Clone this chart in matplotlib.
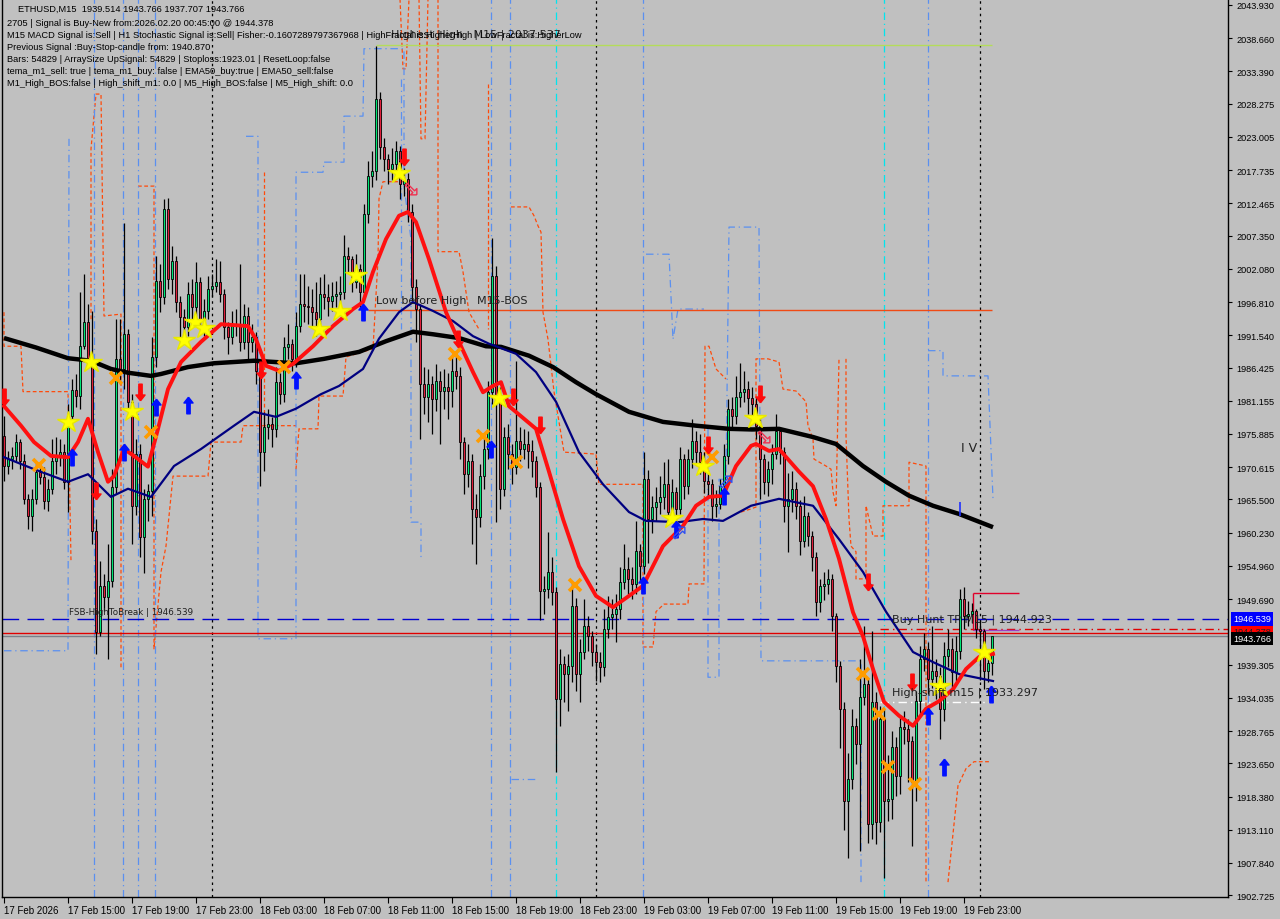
import numpy as np
import matplotlib.pyplot as plt
from matplotlib.transforms import blended_transform_factory

# ETHUSD M15 bars, 17 Feb 11:00 -> 20 Feb 00:45
closes = [1970.8, 1971.9, 1972.4, 1974.6, 1971.6, 1965.6, 1962.9, 1965.6, 1969.9, 1969.1,
          1965.3, 1967.2, 1971.6, 1972.2, 1973.0, 1968.3, 1978.7, 1982.9, 1981.9, 1989.8,
          1993.7, 1987.8, 1960.5, 1944.5, 1951.8, 1950.0, 1952.6, 1967.5, 1987.8, 1986.2,
          1991.7, 1981.0, 1964.5, 1972.7, 1959.6, 1965.6, 1966.9, 1988.1, 2000.2, 1997.6,
          2011.6, 2000.5, 2003.3, 1996.8, 1994.4, 1992.9, 1998.1, 1996.0, 2000.0, 1994.1,
          1995.4, 1998.9, 1999.4, 2000.0, 1998.1, 1992.9, 1991.3, 1993.0, 1993.3, 1990.5,
          1994.6, 1990.5, 1991.3, 1985.9, 1973.0, 1977.0, 1977.5, 1976.7, 1984.1, 1982.2,
          1989.7, 1990.2, 1987.8, 1993.0, 1996.5, 1996.2, 1996.0, 1995.2, 1994.1, 1998.1,
          1997.6, 1997.0, 1997.8, 1998.1, 1998.4, 2004.1, 2003.6, 2000.0, 2002.1, 1998.4,
          2010.8, 2016.8, 2017.6, 2029.0, 2021.4, 2019.5, 2017.9, 2018.7, 2020.8, 2015.5,
          2016.3, 2011.1, 1999.2, 1995.7, 1983.8, 1981.8, 1983.8, 1981.4, 1984.3, 1982.7,
          1983.3, 1982.7, 1985.9, 1985.1, 1974.6, 1969.5, 1971.6, 1964.0, 1962.7, 1969.2,
          1973.5, 1982.6, 2001.0, 1981.8, 1967.2, 1975.4, 1972.7, 1970.7, 1974.8, 1973.5,
          1974.3, 1973.2, 1971.6, 1967.5, 1951.0, 1951.3, 1954.0, 1950.8, 1933.9, 1939.4,
          1937.8, 1939.1, 1948.6, 1937.8, 1941.3, 1945.4, 1943.9, 1941.3, 1939.7, 1938.9,
          1945.0, 1946.9, 1947.3, 1948.1, 1952.4, 1954.5, 1952.9, 1952.1, 1957.3, 1955.0,
          1968.8, 1962.4, 1964.3, 1965.1, 1965.9, 1968.0, 1963.5, 1966.7, 1964.0, 1971.9,
          1967.6, 1971.9, 1974.8, 1973.0, 1971.5, 1968.4, 1968.0, 1964.5, 1964.8, 1967.6,
          1972.4, 1979.9, 1978.7, 1981.8, 1982.6, 1983.0, 1981.6, 1980.6, 1977.2, 1971.9,
          1968.3, 1970.3, 1972.7, 1976.4, 1973.0, 1964.5, 1965.6, 1967.2, 1964.5, 1958.9,
          1962.9, 1959.7, 1956.4, 1949.2, 1951.8, 1952.1, 1952.9, 1947.0, 1939.1, 1932.3,
          1917.7, 1921.2, 1929.6, 1926.7, 1934.2, 1936.2, 1914.0, 1933.4, 1914.4, 1930.7,
          1917.7, 1918.0, 1926.3, 1921.7, 1929.4, 1929.1, 1927.2, 1920.7, 1933.5, 1940.2,
          1941.8, 1937.0, 1938.3, 1937.5, 1932.3, 1940.7, 1941.8, 1938.1, 1941.5, 1949.7,
          1947.0, 1947.3, 1947.8, 1945.0, 1944.6, 1938.3, 1939.514, 1943.766]
highs = [1978.7, 1973.2, 1973.8, 1975.9, 1975.1, 1972.7, 1966.4, 1967.2, 1971.6, 1971.1,
         1970.6, 1968.8, 1975.1, 1975.4, 1975.1, 1974.3, 1980.6, 1984.6, 1985.4, 1998.4,
         2001.3, 1996.5, 1995.4, 1962.4, 1955.8, 1953.7, 1958.4, 1970.3, 1994.1, 1994.1,
         2009.3, 1992.5, 1982.2, 1975.1, 1974.3, 1967.2, 1968.0, 1991.3, 2004.1, 2002.8,
         2013.2, 2013.3, 2005.7, 2004.1, 1997.8, 1995.7, 2000.0, 2000.5, 2003.1, 2000.8,
         1997.3, 2001.0, 2001.3, 2003.6, 2003.3, 1998.9, 1993.7, 1995.4, 1995.7, 2002.8,
         1996.5, 1996.0, 1993.3, 1992.0, 1986.5, 1979.4, 1979.9, 1978.6, 1986.5, 1985.6,
         1991.3, 1993.3, 1991.0, 1995.2, 2001.3, 2001.3, 1999.4, 1998.9, 2000.0, 2000.8,
         2001.3, 1999.7, 2000.0, 2000.2, 2001.0, 2007.5, 2005.6, 2004.1, 2004.4, 2002.8,
         2012.4, 2019.2, 2020.8, 2037.5, 2030.2, 2022.9, 2020.3, 2021.3, 2022.4, 2021.6,
         2018.1, 2017.3, 2012.4, 2000.5, 1996.5, 1986.5, 1986.2, 1985.1, 1987.0, 1985.9,
         1986.2, 1985.6, 1988.1, 1989.0, 1986.5, 1975.4, 1974.3, 1972.7, 1966.4, 1971.1,
         1975.9, 1984.3, 2007.0, 2002.5, 1983.3, 1977.0, 1977.5, 1974.3, 1987.5, 1977.0,
         1976.7, 1976.4, 1974.9, 1972.4, 1968.3, 1953.4, 1960.3, 1956.4, 1951.6, 1941.8,
         1940.7, 1941.0, 1952.6, 1949.8, 1943.4, 1949.7, 1947.0, 1944.6, 1942.6, 1941.3,
         1948.1, 1950.2, 1949.7, 1950.5, 1954.8, 1958.4, 1956.4, 1954.8, 1962.1, 1958.4,
         1973.0, 1970.1, 1966.0, 1967.5, 1969.2, 1971.4, 1971.9, 1968.8, 1967.5, 1973.8,
         1972.7, 1973.5, 1978.2, 1976.4, 1975.9, 1973.0, 1970.2, 1968.8, 1967.0, 1968.8,
         1974.3, 1981.4, 1981.7, 1985.1, 1987.2, 1985.9, 1984.3, 1983.3, 1981.8, 1978.2,
         1972.7, 1971.6, 1974.3, 1979.1, 1977.0, 1973.8, 1969.7, 1970.0, 1968.3, 1965.4,
         1966.0, 1963.5, 1960.5, 1957.2, 1952.9, 1954.0, 1954.5, 1953.7, 1947.5, 1939.9,
         1933.4, 1925.3, 1932.3, 1930.9, 1940.2, 1945.4, 1937.2, 1944.6, 1934.9, 1932.7,
         1932.3, 1925.0, 1928.8, 1927.8, 1931.2, 1932.0, 1930.7, 1928.0, 1935.1, 1942.3,
         1944.3, 1942.9, 1945.4, 1940.2, 1938.9, 1942.9, 1944.9, 1943.6, 1943.8, 1951.3,
         1951.6, 1949.4, 1949.0, 1948.1, 1946.4, 1945.0, 1940.5, 1943.766]
lows = [1968.4, 1969.5, 1970.3, 1971.6, 1970.3, 1964.8, 1960.8, 1960.5, 1964.8, 1967.9,
        1964.0, 1963.7, 1966.4, 1969.5, 1970.8, 1967.2, 1963.5, 1978.2, 1980.2, 1979.9,
        1989.4, 1986.5, 1958.4, 1941.0, 1943.9, 1947.8, 1940.2, 1951.6, 1966.4, 1983.8,
        1983.0, 1979.9, 1958.4, 1963.0, 1956.4, 1953.9, 1962.1, 1962.9, 1986.5, 1995.2,
        1996.5, 1998.9, 1998.1, 1995.2, 1990.7, 1990.2, 1991.5, 1993.3, 1994.6, 1992.5,
        1991.4, 1994.1, 1997.6, 1998.4, 1996.8, 1991.0, 1988.6, 1990.2, 1991.4, 1989.1,
        1989.4, 1987.5, 1988.9, 1983.8, 1967.6, 1970.0, 1975.1, 1973.8, 1975.4, 1980.6,
        1981.0, 1987.8, 1985.9, 1986.5, 1992.0, 1993.7, 1993.3, 1992.8, 1991.5, 1993.0,
        1995.7, 1994.6, 1995.4, 1996.0, 1996.5, 1997.3, 2001.6, 1998.4, 1999.1, 1995.7,
        1997.6, 2009.4, 2015.1, 2016.2, 2019.5, 2017.6, 2015.5, 2016.2, 2017.6, 2013.2,
        2013.6, 2009.5, 1997.0, 1990.5, 1975.1, 1979.1, 1977.8, 1975.9, 1979.6, 1974.3,
        1979.9, 1978.2, 1980.2, 1983.0, 1971.9, 1966.4, 1967.5, 1958.4, 1955.3, 1961.1,
        1967.2, 1971.9, 1980.6, 1962.0, 1964.0, 1966.0, 1970.3, 1968.0, 1969.5, 1971.6,
        1971.9, 1970.5, 1969.0, 1965.9, 1946.3, 1947.3, 1949.9, 1948.8, 1922.3, 1929.6,
        1933.4, 1931.9, 1936.5, 1935.1, 1933.4, 1940.2, 1941.5, 1939.1, 1936.7, 1936.5,
        1937.5, 1943.6, 1944.9, 1942.9, 1946.5, 1951.3, 1950.5, 1949.7, 1950.5, 1952.6,
        1953.7, 1955.4, 1960.1, 1962.1, 1963.2, 1964.0, 1961.7, 1962.1, 1961.9, 1963.2,
        1965.6, 1966.4, 1970.5, 1971.1, 1969.5, 1966.6, 1966.0, 1962.1, 1962.7, 1964.0,
        1966.4, 1971.1, 1976.7, 1977.5, 1980.2, 1981.0, 1979.1, 1977.8, 1975.1, 1965.6,
        1966.4, 1966.0, 1968.0, 1971.9, 1971.1, 1962.0, 1957.2, 1963.5, 1962.4, 1956.7,
        1957.9, 1958.1, 1954.2, 1947.0, 1947.7, 1949.5, 1950.5, 1944.6, 1936.5, 1926.1,
        1913.1, 1908.6, 1919.6, 1923.6, 1909.7, 1932.9, 1911.0, 1911.6, 1910.9, 1912.8,
        1905.5, 1914.5, 1914.8, 1918.5, 1918.8, 1926.7, 1920.7, 1910.6, 1917.7, 1931.5,
        1938.3, 1934.6, 1935.6, 1933.9, 1927.5, 1930.4, 1938.9, 1935.6, 1936.7, 1940.2,
        1944.9, 1945.4, 1945.9, 1943.6, 1936.9, 1935.5, 1936.5, 1937.707]
first_open = 1975.6

# moving averages (bar index, price)
ma_slow_x = [0, 8, 16, 21.75, 26.75, 31, 36.75, 39.25, 46, 52.5, 62.5, 73, 80, 88.75, 95.5,
             102.25, 107.25, 113.75, 120.5, 124.25, 131.25, 137.25, 143, 148, 156.25, 164.75,
             173, 181.25, 187, 193.75, 202.25, 208, 214.75, 220.5, 226.25, 232.25, 238.75, 247.25]
ma_slow_y = [1991.1, 1989.6, 1987.9, 1987.5, 1986.2, 1985.6, 1985.1, 1985.4, 1986.5, 1987.1,
             1987.5, 1987.1, 1987.8, 1988.9, 1990.6, 1992.1, 1991.7, 1991.1, 1989.8, 1989.7,
             1988.3, 1986.5, 1984.1, 1982.2, 1979.4, 1977.8, 1977.2, 1976.7, 1976.6, 1976.7,
             1975.4, 1974.3, 1970.8, 1968.3, 1966.1, 1964.5, 1963.2, 1961.1]
ma_mid_x = [0, 7.5, 16, 21, 26.75, 31, 36.75, 42.5, 49.25, 57.5, 62.5, 68, 73, 79.25, 83.75,
            89.75, 93.75, 98.75, 102.25, 107.25, 112.25, 117.25, 121.25, 123, 128, 133, 138,
            143.75, 149.75, 156.25, 160.5, 168.75, 174.75, 179.75, 186.75, 193.75, 202.25,
            208.75, 214.75, 220.5, 227.25, 232.25, 238.75, 247.25]
ma_mid_y = [1972.2, 1970.3, 1968.3, 1969.5, 1965.9, 1967.2, 1965.9, 1970.8, 1973.5, 1977.2,
            1979.4, 1978.6, 1979.9, 1982.2, 1983.5, 1986.2, 1991.0, 1995.2, 1996.8, 1995.4,
            1993.8, 1991.4, 1990.2, 1989.8, 1988.6, 1985.7, 1981.0, 1973.0, 1967.9, 1963.5,
            1962.1, 1961.9, 1962.4, 1962.1, 1964.5, 1965.6, 1964.5, 1959.2, 1954.0, 1947.7,
            1941.3, 1939.7, 1937.8, 1936.7]
ma_fast_x = [0, 4.25, 7.5, 11.75, 16, 18.5, 21, 23.5, 26, 27.5, 30, 32.5, 36, 38.5, 41, 44.25,
             49.25, 54.25, 61, 63, 65.5, 68.75, 72.25, 77.25, 82.25, 87.25, 89.75, 92.25, 95.5,
             98.75, 101, 103, 106.25, 110.5, 113.75, 117.25, 119.75, 122.25, 124.25, 126.25,
             133, 136.25, 139.75, 143.75, 148, 152.25, 156.25, 159.75, 164.75, 169.75, 173,
             176.25, 179.75, 183, 186.75, 188, 191.25, 193.75, 198.75, 202.25, 205.5, 208.75,
             212.25, 214.75, 217.25, 220, 223.75, 227.25, 230.5, 233.75, 237.25, 240.5,
             243.75, 247.25]
ma_fast_y = [1980.3, 1977.2, 1974.6, 1972.4, 1972.2, 1974.6, 1978.3, 1973.0, 1968.3, 1969.2,
             1973.5, 1972.4, 1970.7, 1976.7, 1983.0, 1987.3, 1990.5, 1993.3, 1993.0, 1990.9,
             1986.7, 1985.9, 1987.0, 1989.8, 1993.0, 1995.7, 1996.8, 2001.6, 2006.8, 2010.5,
             2011.1, 2009.5, 2003.6, 1995.2, 1990.5, 1985.7, 1982.5, 1983.5, 1984.1, 1980.3,
             1976.7, 1969.9, 1962.4, 1954.9, 1950.2, 1948.4, 1950.2, 1951.8, 1958.1, 1961.3,
             1964.5, 1965.9, 1966.1, 1970.8, 1974.0, 1974.3, 1973.2, 1973.5, 1969.9, 1967.6,
             1962.4, 1956.1, 1947.6, 1943.8, 1938.6, 1933.4, 1931.2, 1929.6, 1932.3, 1933.5,
             1935.4, 1938.6, 1940.5, 1941.0]

# channel step lines (orange dashed, blue dash-dot) as (bars, prices)
orange_paths = [
    ([0, 0, 4.25, 4.75, 16, 16.75], [1995.2, 1989.8, 1989.8, 1982.6, 1982.6, 1955.6]),
    ([21.75, 21.75, 23, 24.25, 25, 29.25, 29.25], [1994.1, 2021.1, 2029.8, 2029.8, 1994.6, 1994.9, 1938.6]),
    ([33.5, 37.5, 37.5, 39.25, 40.5, 42.25, 51, 51.75, 59.25, 59.75, 62.5, 73],
     [2015.2, 2015.2, 1941.8, 1954.0, 1958.1, 1969.2, 1969.2, 1974.6, 1974.6, 1977.2, 1977.2, 1977.2]),
    ([65, 65], [2017.4, 1977.2]),
    ([73, 73.75, 78.5, 78.75, 84.75, 85.5, 92.25, 93.5, 93.75, 94.75, 99.75],
     [1970.3, 1976.7, 1976.7, 1981.9, 1981.9, 1988.1, 1989.4, 2003.6, 2013.2, 2015.9, 2015.9]),
    ([99, 99.75, 100.5, 101.25], [2044.9, 2033.8, 2033.8, 2044.9]),
    ([103.75, 104.25, 105.25, 106], [2044.9, 2022.7, 2022.7, 2044.9]),
    ([108.5, 108.5, 113.75, 114.75, 116.25, 118.75], [2044.9, 2004.8, 2004.8, 2001.6, 1995.2, 1992.5]),
    ([121, 121], [2031.4, 1992.5]),
    ([126.75, 131.25, 132.5, 133.5, 134.25, 134.75, 136, 137.5, 140, 148, 148.75, 159.75],
     [2011.9, 2011.9, 2010.5, 2008.9, 2007.9, 1995.2, 1990.9, 1982.6, 1973.0, 1972.7, 1967.9, 1967.9]),
    ([159.75, 159.75, 162.25, 163, 165, 171, 171.25, 175, 175.25, 176.25, 178, 180.5],
     [1967.9, 1942.1, 1942.1, 1947.7, 1948.9, 1948.9, 1952.1, 1952.1, 1989.8, 1989.8, 1986.2, 1984.6]),
    ([184.25, 186.75, 188, 188, 191, 193.75, 194.75, 198, 200.5, 201, 202.25, 202.5, 205.5,
      206.75, 207.25, 208, 208.75],
     [1963.5, 1964.0, 1964.3, 1987.8, 1987.8, 1987.3, 1983.0, 1982.7, 1981.0, 1977.2, 1975.1,
      1971.9, 1970.8, 1970.3, 1966.7, 1964.5, 1987.8]),
    ([210.5, 210.5, 211.25, 211.75, 213, 213, 215.5, 215.5, 217.25, 219.75, 219.75, 226.25,
      226.25, 230.5, 230.5],
     [1987.8, 1975.6, 1962.4, 1958.1, 1957.2, 1952.9, 1952.9, 1964.5, 1959.7, 1959.7, 1964.5,
      1964.5, 1971.4, 1970.8, 1904.8]),
    ([236, 238.5, 240.5, 242.5, 246.75], [1904.8, 1920.1, 1922.8, 1923.9, 1923.9]),
]
blue_paths = [
    ([0, 16, 16.25], [1941.5, 1941.5, 2022.7]),
    ([60.5, 63.5, 63.5, 73, 73, 79.75, 80, 85, 85, 89.75, 90, 100, 100, 101.75, 101.75, 104.25, 104.25],
     [2023.1, 2023.1, 1943.4, 1943.4, 2017.4, 2017.4, 2019.0, 2019.0, 2026.3, 2026.3, 2037.0,
      2037.0, 2015.2, 2006.8, 1961.9, 1961.9, 1956.1]),
    ([99.25, 99.25], [2032.2, 1992.5]),
    ([126.75, 133], [1921.2, 1921.2]),
    ([160.5, 166.25, 167.25, 168.5, 175], [2004.4, 2004.4, 1990.9, 1995.7, 1995.7]),
    ([176, 176, 178.75, 178.75, 180.5, 181.25, 188, 188.75, 189.25, 214.25, 214.25],
     [1976.7, 1937.3, 1937.3, 1968.7, 1968.7, 2008.7, 2008.7, 2008.7, 1939.9, 1939.9, 1904.8]),
    ([231, 234.75, 234.75, 246, 247.25], [1989.1, 1989.1, 1985.1, 1985.1, 1965.6]),
]
blue_full = [22.5, 29.75, 33.5, 37.75, 121.75, 126.5, 159.75, 231]

# signal markers (bar index, price)
star_x = [16, 21.75, 32, 45, 47.75, 50, 78.75, 84, 88, 98.75, 123.75, 167, 174.75, 187.75, 234, 245]
star_y = [1977.8, 1987.3, 1979.5, 1990.8, 1993.6, 1992.7, 1992.5, 1995.4, 2001.1, 2017.3,
          1981.6, 1962.6, 1970.8, 1978.4, 1935.9, 1941.3]
cross_x = [8.75, 28, 36.75, 70, 112.75, 119.75, 128, 142.75, 177, 214.75, 218.75, 221, 227.75]
cross_y = [1971.0, 1984.8, 1976.2, 1986.5, 1988.6, 1975.6, 1971.4, 1951.9, 1972.2, 1937.8,
           1931.5, 1923.1, 1920.4]
buy_x = [17, 30, 38, 46, 73, 89.75, 121.75, 159.75, 168, 180, 231, 235, 246.75]
buy_y = [1972.2, 1973.0, 1980.2, 1980.5, 1984.4, 1995.2, 1973.5, 1951.9, 1960.8, 1966.1,
         1931.2, 1923.1, 1934.6]
sell_x = [0, 23, 34, 64.25, 100, 113.5, 127.25, 134, 176, 189, 216, 227]
sell_y = [1981.8, 1966.8, 1982.5, 1986.0, 2019.8, 1990.9, 1981.7, 1977.3, 1974.1, 1982.2,
          1952.4, 1936.6]
exit_sell_x = [101.75, 190]
exit_sell_y = [2014.7, 1975.4]
exit_buy_x = [168.75, 180.5]
exit_buy_y = [1960.3, 1968.4]

# levels
hh_level = 2037.537
bos_level = 1995.56
fsb_level = 1946.539
signal_level = 1944.378
bid_level = 1943.766
tp_level = 1944.923
shift_level = 1933.297
box_top, box_bottom = 1950.7, 1944.8

price_ticks = [2043.930, 2038.660, 2033.390, 2028.275, 2023.005, 2017.735, 2012.465, 2007.350,
               2002.080, 1996.810, 1991.540, 1986.425, 1981.155, 1975.885, 1970.615, 1965.500,
               1960.230, 1954.960, 1949.690, 1939.305, 1934.035, 1928.765, 1923.650, 1918.380,
               1913.110, 1907.840, 1902.725]
time_ticks = list(range(0, 241, 16))
time_labels = ['17 Feb 2026', '17 Feb 15:00', '17 Feb 19:00', '17 Feb 23:00', '18 Feb 03:00',
               '18 Feb 07:00', '18 Feb 11:00', '18 Feb 15:00', '18 Feb 19:00', '18 Feb 23:00',
               '19 Feb 03:00', '19 Feb 07:00', '19 Feb 11:00', '19 Feb 15:00', '19 Feb 19:00',
               '19 Feb 23:00']
day_breaks = [52, 148, 244]
cyan_marks = [138, 220]

info_lines = [
    '2705 | Signal is Buy-New from:2026.02.20 00:45:00 @ 1944.378',
    'M15 MACD Signal is:Sell | H1 Stochastic Signal is:Sell| Fisher:-0.1607289797367968 | '
    'HighFractal is:HigherHigh | LowFractal is:HigherLow',
    'Previous Signal :Buy-Stop-candle from: 1940.870',
    'Bars: 54829 | ArraySize UpSignal: 54829 | Stoploss:1923.01 | ResetLoop:false',
    'tema_m1_sell: true | tema_m1_buy: false | EMA50_buy:true | EMA50_sell:false',
    'M1_High_BOS:false | High_shift_m1: 0.0 | M5_High_BOS:false | M5_High_shift: 0.0',
]

BG = '#C0C0C0'
UP = '#00E676'
DOWN = '#E0203C'
SMALL = 'Liberation Sans'

fig = plt.figure(figsize=(12.8, 9.2), dpi=100, facecolor=BG)
ax = fig.add_axes([2 / 1280, 22 / 920, 1226 / 1280, 898 / 920], facecolor=BG)
ax.set_xlim(-0.5, 306)
ax.set_ylim(1902.44, 2044.88)

n = len(closes)
x = np.arange(n)
c = np.array(closes)
o = np.array([first_open] + closes[:-1])
h = np.maximum(np.array(highs), np.maximum(o, c))
l = np.minimum(np.array(lows), np.minimum(o, c))

# separators
for b in day_breaks:
    ax.axvline(b, color='black', lw=0.9, ls=(0, (2, 3)), zorder=1)
for b in cyan_marks:
    ax.axvline(b, color='#00E5EE', lw=0.9, ls=(0, (6, 3, 1, 3)), zorder=1)

# channel lines
for px, py in orange_paths:
    ax.plot(px, py, color='#FF4A0A', lw=0.9, ls=(0, (3, 2)), zorder=1.5)
for px, py in blue_paths:
    ax.plot(px, py, color='#5A90F0', lw=0.9, ls=(0, (6, 3, 1, 3)), zorder=1.5)
for b in blue_full:
    ax.axvline(b, color='#5A90F0', lw=0.9, ls=(0, (6, 3, 1, 3)), zorder=1.5)

# horizontal levels
ax.axhline(fsb_level, color='#0000D0', lw=1, ls=(0, (12, 6)), zorder=2)
ax.axhline(signal_level, color='#E00000', lw=1, zorder=2)
ax.axhline(bid_level, color='#7A8088', lw=1, zorder=2)
ax.hlines(tp_level, 219, 306, color='#E00000', lw=1, ls=(0, (6, 3, 1, 3)), zorder=2)
ax.hlines(shift_level, 219, 247, color='white', lw=1, ls=(0, (6, 3, 1, 3)), zorder=2)
ax.hlines(hh_level, 93, 247, color='#B4DC5A', lw=1, zorder=2)
ax.hlines(bos_level, 91, 247, color='#F04A14', lw=1, zorder=2)
ax.hlines(box_top, 242.25, 253.75, color='#E0002A', lw=1, zorder=2)
ax.hlines(box_bottom, 242.25, 253.75, color='#A040C0', lw=1, zorder=2)
ax.vlines(242.25, box_bottom, box_top, color='#E0002A', lw=1, zorder=2)

# candles
ax.vlines(x, l, h, color='black', lw=0.9, zorder=3)
up = c >= o
body_lo = np.minimum(o, c)
body_h = np.maximum(np.abs(c - o), 0.15)
ax.bar(x[up], body_h[up], bottom=body_lo[up], width=0.72, color=UP,
       edgecolor='black', lw=0.6, zorder=4)
ax.bar(x[~up], body_h[~up], bottom=body_lo[~up], width=0.72, color=DOWN,
       edgecolor='black', lw=0.6, zorder=4)

# moving averages
ax.plot(ma_slow_x, ma_slow_y, color='black', lw=3.2, zorder=5, solid_capstyle='butt')
ax.plot(ma_mid_x, ma_mid_y, color='#000080', lw=1.6, zorder=5)
ax.plot(ma_fast_x, ma_fast_y, color='#FF1010', lw=2.8, zorder=6)

# markers
up_arrow = [(0, 1), (-0.55, 0.3), (-0.2, 0.3), (-0.2, -1), (0.2, -1), (0.2, 0.3), (0.55, 0.3), (0, 1)]
down_arrow = [(px, -py) for px, py in up_arrow]
diag_down = [(0.6, -0.6), (0.6, 0.1), (0.35, -0.15), (-0.5, 0.7), (-0.7, 0.5), (0.15, -0.35),
             (-0.1, -0.6), (0.6, -0.6)]
diag_up = [(px, -py) for px, py in diag_down]
ax.plot(star_x, star_y, ls='none', marker='*', ms=16, color='#FFFF00', mec='#E8E800', zorder=8)
ax.plot(cross_x, cross_y, ls='none', marker='x', ms=8, mew=2.6, color='#FF9C00', zorder=8)
ax.plot(buy_x, buy_y, ls='none', marker=up_arrow, ms=12, color='#0010FF', zorder=8)
ax.plot(sell_x, sell_y, ls='none', marker=down_arrow, ms=12, color='#FF0A0A', zorder=8)
ax.plot(exit_sell_x, exit_sell_y, ls='none', marker=diag_down, ms=9, mfc='none',
        mec='#F03050', mew=1, zorder=8)
ax.plot(exit_buy_x, exit_buy_y, ls='none', marker=diag_up, ms=9, mfc='none',
        mec='#3050F0', mew=1, zorder=8)

# object labels
lab = dict(family='DejaVu Sans', fontsize=8, color='#202020', va='center', ha='left', zorder=9)
ax.text(96.75, 2039.3, 'Highest High   M15 | 2037.537', **lab)
ax.text(93, 1997.1, 'Low before High   M15-BOS', **lab)
ax.text(16.25, 1947.7, 'FSB-HighToBreak | 1946.539', family='DejaVu Sans', fontsize=6.3,
        color='#202020', va='center', ha='left', zorder=9)
ax.text(222, 1946.6, 'Buy Hunt TP M15 | 1944.923', **lab)
ax.text(222, 1935.0, 'High-shift m15 | 1933.297', **lab)
ax.text(239.25, 1973.8, 'I V', family='DejaVu Sans', fontsize=9, color='#202020',
        va='center', ha='left', zorder=9)
ax.vlines(239, 1962.9, 1965.1, color='#2030FF', lw=1.2, zorder=9)

# info block
fig.text(18 / 1280, 1 - 9 / 920, 'ETHUSD,M15  1939.514 1943.766 1937.707 1943.766',
         family=SMALL, fontsize=6.7, color='black', va='center', ha='left')
for i, line in enumerate(info_lines):
    fig.text(7 / 1280, 1 - (23 + 12 * i) / 920, line, family=SMALL, fontsize=6.7,
             color='black', va='center', ha='left')

# axes styling
for side in ['left', 'bottom', 'right']:
    ax.spines[side].set_color('black')
    ax.spines[side].set_linewidth(1)
ax.spines['top'].set_visible(False)
ax.yaxis.tick_right()
ax.set_yticks(price_ticks)
ax.set_yticklabels([f'{v:.3f}' for v in price_ticks], family=SMALL, fontsize=6.6)
ax.tick_params(axis='y', length=3, pad=3, colors='black')
ax.set_xticks(time_ticks)
ax.set_xticklabels(time_labels, family=SMALL, fontsize=7, ha='left')
ax.tick_params(axis='x', length=4, pad=2, colors='black')

# price tags on the price scale
tr = blended_transform_factory(ax.transAxes, ax.transData)
tag = dict(transform=tr, family=SMALL, fontsize=6.6, va='center', ha='left', clip_on=False, zorder=10)
ax.text(1.004, signal_level + 0.2, '1944.378', color='#202020',
        bbox=dict(boxstyle='square,pad=0.25', fc='#FF0000', ec='none'), **tag)
ax.text(1.004, fsb_level, '1946.539', color='white',
        bbox=dict(boxstyle='square,pad=0.25', fc='#0000FF', ec='none'), **tag)
ax.text(1.004, bid_level - 0.35, '1943.766', color='white',
        bbox=dict(boxstyle='square,pad=0.25', fc='black', ec='none'), **tag)

fig.savefig('out.png', dpi=100, facecolor=BG)
